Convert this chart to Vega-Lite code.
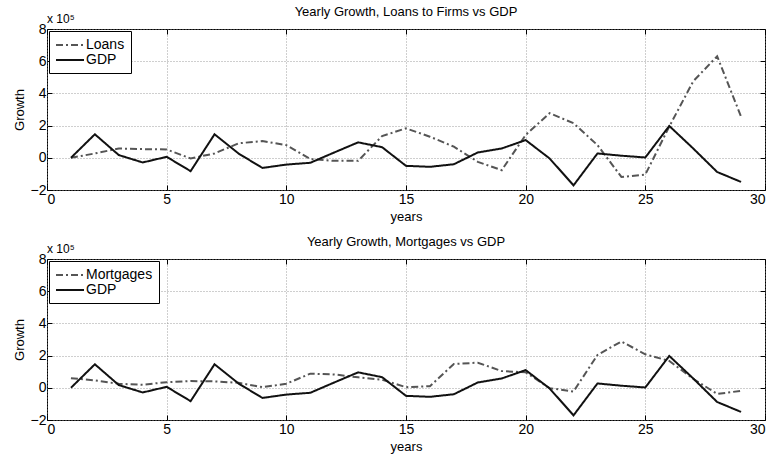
{
  "$schema": "https://vega.github.io/schema/vega-lite/v6.json",
  "background": "white",
  "padding": {"left": 12, "top": 5, "right": 5, "bottom": 0},
  "spacing": 11,
  "config": {
    "font": "Liberation Sans",
    "view": {"stroke": "black", "strokeWidth": 1},
    "axis": {
      "grid": true, "gridDash": [1, 2], "gridColor": "#888", "gridOpacity": 0.8,
      "domain": false, "tickColor": "black", "tickSize": -5,
      "labelFontSize": 14, "labelColor": "black", "labelOverlap": false,
      "titleFontSize": 13, "titleFontWeight": "normal", "titleColor": "black"
    },
    "legend": {
      "orient": "top-left", "offset": 2, "padding": 6,
      "strokeColor": "black", "fillColor": "white",
      "symbolType": "M-2,0H2", "symbolSize": 196, "symbolStrokeWidth": 2, "symbolOffset": 7,
      "labelFontSize": 14, "labelColor": "black", "rowPadding": 0, "labelOffset": 8
    },
    "title": {"fontSize": 13, "fontWeight": "normal", "color": "black", "frame": "group", "offset": -6}
  },
  "datasets": {
    "loans": [
      {"year": 1, "series": "Loans", "growth": 0.0},
      {"year": 2, "series": "Loans", "growth": 0.27},
      {"year": 3, "series": "Loans", "growth": 0.58},
      {"year": 4, "series": "Loans", "growth": 0.54},
      {"year": 5, "series": "Loans", "growth": 0.52},
      {"year": 6, "series": "Loans", "growth": -0.04},
      {"year": 7, "series": "Loans", "growth": 0.27},
      {"year": 8, "series": "Loans", "growth": 0.9},
      {"year": 9, "series": "Loans", "growth": 1.04},
      {"year": 10, "series": "Loans", "growth": 0.79},
      {"year": 11, "series": "Loans", "growth": -0.08},
      {"year": 12, "series": "Loans", "growth": -0.19},
      {"year": 13, "series": "Loans", "growth": -0.19},
      {"year": 14, "series": "Loans", "growth": 1.35},
      {"year": 15, "series": "Loans", "growth": 1.83},
      {"year": 16, "series": "Loans", "growth": 1.31},
      {"year": 17, "series": "Loans", "growth": 0.69},
      {"year": 18, "series": "Loans", "growth": -0.25},
      {"year": 19, "series": "Loans", "growth": -0.77},
      {"year": 20, "series": "Loans", "growth": 1.42},
      {"year": 21, "series": "Loans", "growth": 2.77},
      {"year": 22, "series": "Loans", "growth": 2.15},
      {"year": 23, "series": "Loans", "growth": 0.79},
      {"year": 24, "series": "Loans", "growth": -1.19},
      {"year": 25, "series": "Loans", "growth": -1.04},
      {"year": 26, "series": "Loans", "growth": 1.94},
      {"year": 27, "series": "Loans", "growth": 4.75},
      {"year": 28, "series": "Loans", "growth": 6.31},
      {"year": 29, "series": "Loans", "growth": 2.56},
      {"year": 1, "series": "GDP", "growth": 0.0},
      {"year": 2, "series": "GDP", "growth": 1.46},
      {"year": 3, "series": "GDP", "growth": 0.17},
      {"year": 4, "series": "GDP", "growth": -0.29},
      {"year": 5, "series": "GDP", "growth": 0.06},
      {"year": 6, "series": "GDP", "growth": -0.83},
      {"year": 7, "series": "GDP", "growth": 1.46},
      {"year": 8, "series": "GDP", "growth": 0.27},
      {"year": 9, "series": "GDP", "growth": -0.63},
      {"year": 10, "series": "GDP", "growth": -0.42},
      {"year": 11, "series": "GDP", "growth": -0.31},
      {"year": 12, "series": "GDP", "growth": 0.33},
      {"year": 13, "series": "GDP", "growth": 0.96},
      {"year": 14, "series": "GDP", "growth": 0.66},
      {"year": 15, "series": "GDP", "growth": -0.5},
      {"year": 16, "series": "GDP", "growth": -0.56},
      {"year": 17, "series": "GDP", "growth": -0.4},
      {"year": 18, "series": "GDP", "growth": 0.33},
      {"year": 19, "series": "GDP", "growth": 0.58},
      {"year": 20, "series": "GDP", "growth": 1.1},
      {"year": 21, "series": "GDP", "growth": -0.04},
      {"year": 22, "series": "GDP", "growth": -1.71},
      {"year": 23, "series": "GDP", "growth": 0.27},
      {"year": 24, "series": "GDP", "growth": 0.13},
      {"year": 25, "series": "GDP", "growth": 0.02},
      {"year": 26, "series": "GDP", "growth": 1.98},
      {"year": 27, "series": "GDP", "growth": 0.58},
      {"year": 28, "series": "GDP", "growth": -0.88},
      {"year": 29, "series": "GDP", "growth": -1.5}
    ],
    "mortgages": [
      {"year": 1, "series": "Mortgages", "growth": 0.6},
      {"year": 2, "series": "Mortgages", "growth": 0.46},
      {"year": 3, "series": "Mortgages", "growth": 0.25},
      {"year": 4, "series": "Mortgages", "growth": 0.19},
      {"year": 5, "series": "Mortgages", "growth": 0.35},
      {"year": 6, "series": "Mortgages", "growth": 0.42},
      {"year": 7, "series": "Mortgages", "growth": 0.4},
      {"year": 8, "series": "Mortgages", "growth": 0.31},
      {"year": 9, "series": "Mortgages", "growth": 0.04},
      {"year": 10, "series": "Mortgages", "growth": 0.25},
      {"year": 11, "series": "Mortgages", "growth": 0.88},
      {"year": 12, "series": "Mortgages", "growth": 0.83},
      {"year": 13, "series": "Mortgages", "growth": 0.65},
      {"year": 14, "series": "Mortgages", "growth": 0.5},
      {"year": 15, "series": "Mortgages", "growth": 0.04},
      {"year": 16, "series": "Mortgages", "growth": 0.1},
      {"year": 17, "series": "Mortgages", "growth": 1.48},
      {"year": 18, "series": "Mortgages", "growth": 1.56},
      {"year": 19, "series": "Mortgages", "growth": 1.04},
      {"year": 20, "series": "Mortgages", "growth": 0.96},
      {"year": 21, "series": "Mortgages", "growth": -0.02},
      {"year": 22, "series": "Mortgages", "growth": -0.23},
      {"year": 23, "series": "Mortgages", "growth": 2.04},
      {"year": 24, "series": "Mortgages", "growth": 2.88},
      {"year": 25, "series": "Mortgages", "growth": 2.08},
      {"year": 26, "series": "Mortgages", "growth": 1.67},
      {"year": 27, "series": "Mortgages", "growth": 0.56},
      {"year": 28, "series": "Mortgages", "growth": -0.38},
      {"year": 29, "series": "Mortgages", "growth": -0.19},
      {"year": 1, "series": "GDP", "growth": 0.0},
      {"year": 2, "series": "GDP", "growth": 1.46},
      {"year": 3, "series": "GDP", "growth": 0.17},
      {"year": 4, "series": "GDP", "growth": -0.29},
      {"year": 5, "series": "GDP", "growth": 0.06},
      {"year": 6, "series": "GDP", "growth": -0.83},
      {"year": 7, "series": "GDP", "growth": 1.46},
      {"year": 8, "series": "GDP", "growth": 0.27},
      {"year": 9, "series": "GDP", "growth": -0.63},
      {"year": 10, "series": "GDP", "growth": -0.42},
      {"year": 11, "series": "GDP", "growth": -0.31},
      {"year": 12, "series": "GDP", "growth": 0.33},
      {"year": 13, "series": "GDP", "growth": 0.96},
      {"year": 14, "series": "GDP", "growth": 0.66},
      {"year": 15, "series": "GDP", "growth": -0.5},
      {"year": 16, "series": "GDP", "growth": -0.56},
      {"year": 17, "series": "GDP", "growth": -0.4},
      {"year": 18, "series": "GDP", "growth": 0.33},
      {"year": 19, "series": "GDP", "growth": 0.58},
      {"year": 20, "series": "GDP", "growth": 1.1},
      {"year": 21, "series": "GDP", "growth": -0.04},
      {"year": 22, "series": "GDP", "growth": -1.71},
      {"year": 23, "series": "GDP", "growth": 0.27},
      {"year": 24, "series": "GDP", "growth": 0.13},
      {"year": 25, "series": "GDP", "growth": 0.02},
      {"year": 26, "series": "GDP", "growth": 1.98},
      {"year": 27, "series": "GDP", "growth": 0.58},
      {"year": 28, "series": "GDP", "growth": -0.88},
      {"year": 29, "series": "GDP", "growth": -1.5}
    ],
    "exponent": [{"year": 0, "growth": 8, "label": "x 10⁵"}]
  },
  "vconcat": [
    {
      "width": 718, "height": 161,
      "title": {"text": "Yearly Growth, Loans to Firms vs GDP"},
      "layer": [
        {
          "data": {"name": "loans"},
          "mark": {"type": "line", "strokeWidth": 2},
          "encoding": {
            "x": {"field": "year", "type": "quantitative", "scale": {"domain": [0, 30], "nice": false},
                  "axis": {"title": "years", "values": [0, 5, 10, 15, 20, 25, 30], "titlePadding": 4, "labelPadding": 7}},
            "y": {"field": "growth", "type": "quantitative", "scale": {"domain": [-2, 8], "nice": false},
                  "axis": {"title": "Growth", "values": [-2, 0, 2, 4, 6, 8], "titlePadding": 4, "labelPadding": 6}},
            "color": {"field": "series", "type": "nominal",
                      "scale": {"domain": ["Loans", "GDP"], "range": ["#555555", "#111111"]},
                      "legend": {"title": null}},
            "strokeDash": {"field": "series", "type": "nominal",
                           "scale": {"domain": ["Loans", "GDP"], "range": [[7, 3, 2, 3], [1, 0]]},
                           "legend": {"title": null}}
          }
        },
        {
          "data": {"name": "exponent"},
          "mark": {"type": "text", "align": "left", "baseline": "bottom", "dy": -3, "fontSize": 12, "color": "black"},
          "encoding": {
            "x": {"field": "year", "type": "quantitative",
                  "axis": {"orient": "top", "title": null, "labels": false, "grid": false, "values": [0, 5, 10, 15, 20, 25, 30]}},
            "y": {"field": "growth", "type": "quantitative",
                  "axis": {"orient": "right", "title": null, "labels": false, "grid": false, "values": [-2, 0, 2, 4, 6, 8]}},
            "text": {"field": "label"}
          }
        }
      ],
      "resolve": {"axis": {"x": "independent", "y": "independent"}}
    },
    {
      "width": 718, "height": 161,
      "title": {"text": "Yearly Growth, Mortgages vs GDP"},
      "layer": [
        {
          "data": {"name": "mortgages"},
          "mark": {"type": "line", "strokeWidth": 2},
          "encoding": {
            "x": {"field": "year", "type": "quantitative", "scale": {"domain": [0, 30], "nice": false},
                  "axis": {"title": "years", "values": [0, 5, 10, 15, 20, 25, 30], "titlePadding": 4, "labelPadding": 7}},
            "y": {"field": "growth", "type": "quantitative", "scale": {"domain": [-2, 8], "nice": false},
                  "axis": {"title": "Growth", "values": [-2, 0, 2, 4, 6, 8], "titlePadding": 4, "labelPadding": 6}},
            "color": {"field": "series", "type": "nominal",
                      "scale": {"domain": ["Mortgages", "GDP"], "range": ["#555555", "#111111"]},
                      "legend": {"title": null}},
            "strokeDash": {"field": "series", "type": "nominal",
                           "scale": {"domain": ["Mortgages", "GDP"], "range": [[7, 3, 2, 3], [1, 0]]},
                           "legend": {"title": null}}
          }
        },
        {
          "data": {"name": "exponent"},
          "mark": {"type": "text", "align": "left", "baseline": "bottom", "dy": -3, "fontSize": 12, "color": "black"},
          "encoding": {
            "x": {"field": "year", "type": "quantitative",
                  "axis": {"orient": "top", "title": null, "labels": false, "grid": false, "values": [0, 5, 10, 15, 20, 25, 30]}},
            "y": {"field": "growth", "type": "quantitative",
                  "axis": {"orient": "right", "title": null, "labels": false, "grid": false, "values": [-2, 0, 2, 4, 6, 8]}},
            "text": {"field": "label"}
          }
        }
      ],
      "resolve": {"axis": {"x": "independent", "y": "independent"}}
    }
  ],
  "resolve": {"scale": {"color": "independent", "strokeDash": "independent"}, "legend": {"color": "independent", "strokeDash": "independent"}}
}
